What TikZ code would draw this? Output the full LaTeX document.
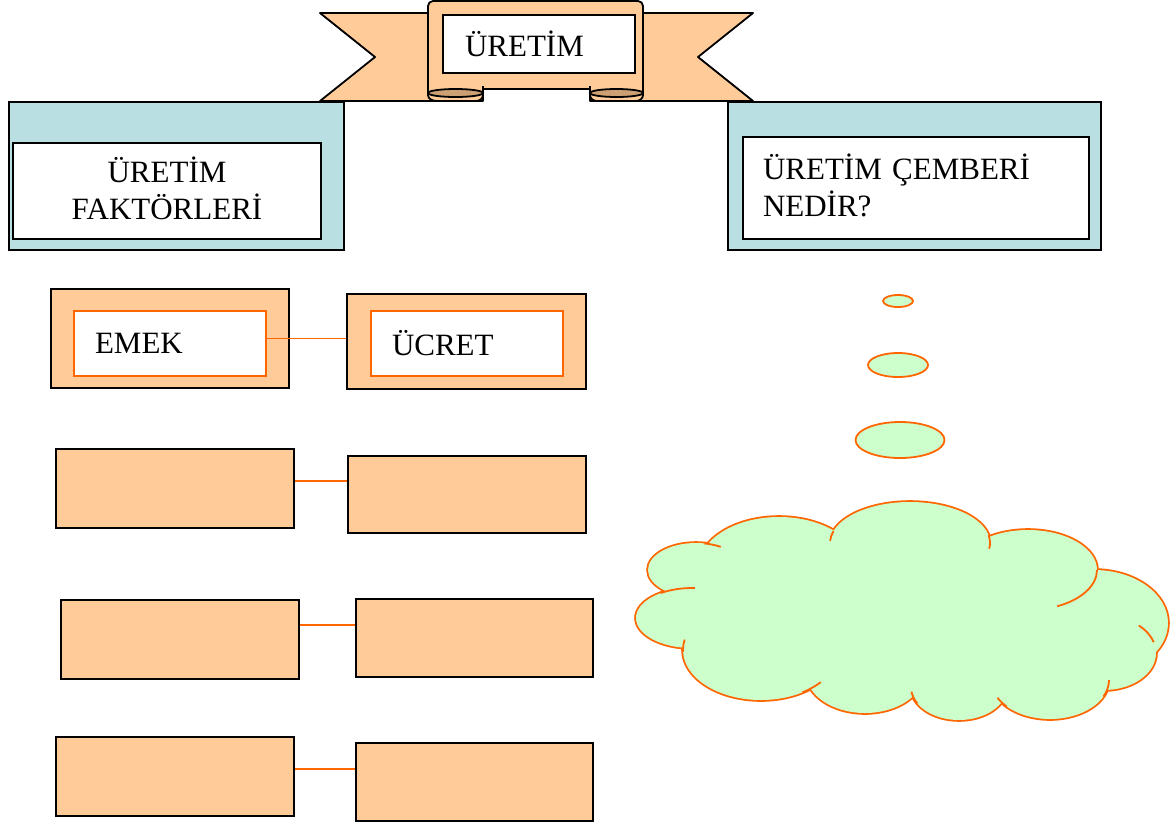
\documentclass[tikz,border=0pt]{standalone}
\usepackage{fontspec}
\setmainfont{Liberation Serif}
\usepackage{tikz}
\usetikzlibrary{positioning, calc, shapes.geometric}
\definecolor{peach}{RGB}{255,204,153}
\definecolor{curltan}{RGB}{205,160,115}
\definecolor{panelblue}{RGB}{185,223,226}
\definecolor{edgeorange}{RGB}{255,102,0}
\definecolor{cloudgreen}{RGB}{204,255,204}
\newcommand{\cloudlobes}{%
    (910,543) ellipse [x radius=80, y radius=41]
    (779,567) ellipse [x radius=80, y radius=50]
    (696,570) ellipse [x radius=48, y radius=27]
    (692,618) ellipse [x radius=56, y radius=30]
    (761,650) ellipse [x radius=78, y radius=50]
    (865,673) ellipse [x radius=59, y radius=40]
    (959,687) ellipse [x radius=48, y radius=33]
    (1050,680) ellipse [x radius=59, y radius=39]
    (1104,653) ellipse [x radius=52, y radius=37]
    (1094,623) ellipse [x radius=74, y radius=53]
    (1028,570) ellipse [x radius=69, y radius=40]}

\begin{document}
\begin{tikzpicture}[
    x=1pt, y=-1pt,
    every node/.style={font=\fontsize{31}{37}\selectfont, inner sep=0pt},
    outerbox/.style={draw=black, line width=1.8pt, fill=peach},
    innerbox/.style={draw=edgeorange, line width=1.8pt, fill=white},
    bluebox/.style={draw=black, line width=1.8pt, fill=panelblue},
    whitebox/.style={draw=black, line width=1.8pt, fill=white},
    banner/.style={draw=black, line width=1.8pt, fill=peach, line join=round},
    link/.style={edgeorange, line width=1.8pt},
    cloudedge/.style={edgeorange, line width=1.8pt},
    bubble/.style={ellipse, draw=edgeorange, line width=1.8pt, fill=cloudgreen},
]
    \useasboundingbox (0,0) rectangle (1170,823);

    % Ribbon tails
    \draw[banner] (320,13) -- (483,13) -- (483,101) -- (320,101) -- (375,57) -- cycle;
    \draw[banner] (753,13) -- (590,13) -- (590,101) -- (753,101) -- (698,57) -- cycle;

    % Ribbon front panel
    \draw[banner] (428,89) {[rounded corners=5pt] -- (428,1) -- (643,1)} -- (643,89) -- cycle;

    % Rolled ends
    \draw[banner] (428,86) -- (428,95) to[out=-90, in=180] (437,101) -- (476,101)
        to[out=0, in=-90] (483,95) -- (483,86);
    \filldraw[fill=curltan, draw=black, line width=1.8pt] (455.5,93) ellipse [x radius=27.5, y radius=4];
    \draw[banner] (590,86) -- (590,95) to[out=-90, in=180] (597,101) -- (636,101)
        to[out=0, in=-90] (643,95) -- (643,86);
    \filldraw[fill=curltan, draw=black, line width=1.8pt] (616.5,93) ellipse [x radius=26.5, y radius=4];

    \node[whitebox, minimum width=192, minimum height=58, text width=148,
        inner xsep=22pt, align=left] (title) at (539,44) {ÜRETİM};

    % Side panels
    \node[bluebox, minimum width=335, minimum height=148] (factorsback) at (176.5,176) {};
    \node[whitebox, minimum width=308, minimum height=96, text width=268,
        inner xsep=20pt, align=center] (factors) at (167,191) {ÜRETİM\\FAKTÖRLERİ\vspace*{5pt}};
    \node[bluebox, minimum width=373, minimum height=148] (circleback) at (914.5,176) {};
    \node[whitebox, minimum width=346, minimum height=102, text width=306,
        inner xsep=20pt, align=left] (question) at (916,188) {ÜRETİM ÇEMBERİ\\NEDİR?\vspace*{6pt}};

    % Factor / income pairs
    \node[outerbox, minimum width=238, minimum height=99] (emekback) at (170,338.5) {};
    \node[innerbox, minimum width=192, minimum height=65, text width=150,
        inner xsep=21pt, align=left] (emek) at (170,343.5) {EMEK};
    \node[outerbox, minimum width=239, minimum height=95] (ucretback) at (466.5,341.5) {};
    \node[innerbox, minimum width=192, minimum height=65, text width=150,
        inner xsep=21pt, align=left] (ucret) at (467,343.5) {ÜCRET};
    \draw[link] ([yshift=5pt]emek.east) coordinate (l1) -- (l1 -| ucretback.west);

    \node[outerbox, minimum width=238, minimum height=79] (factor2) at (175,488.5) {};
    \node[outerbox, minimum width=238, minimum height=77] (income2) at (467,494.5) {};
    \draw[link] ([yshift=7.5pt]factor2.east) coordinate (l2) -- (l2 -| income2.west);

    \node[outerbox, minimum width=238, minimum height=79] (factor3) at (180,639.5) {};
    \node[outerbox, minimum width=237, minimum height=78] (income3) at (474.5,638) {};
    \draw[link] ([yshift=14.5pt]factor3.east) coordinate (l3) -- (l3 -| income3.west);

    \node[outerbox, minimum width=238, minimum height=79] (factor4) at (175,776.5) {};
    \node[outerbox, minimum width=237, minimum height=78] (income4) at (474.5,782) {};
    \draw[link] ([yshift=7.5pt]factor4.east) coordinate (l4) -- (l4 -| income4.west);

    % Thought bubbles
    \node[bubble, minimum width=30, minimum height=12] (bubble1) at (898,301) {};
    \node[bubble, minimum width=60, minimum height=24] (bubble2) at (898,365) {};
    \node[bubble, minimum width=89, minimum height=36] (bubble3) at (900,440) {};

    % Cloud: thick outline first, fill on top leaves the outer edge
    \draw[edgeorange, line width=3.6pt] \cloudlobes;
    \fill[cloudgreen] \cloudlobes;
    \fill[cloudgreen] (900,610) ellipse [x radius=165, y radius=72];
    \draw[cloudedge] (696,570) ++(280:48 and 27) arc [start angle=280, end angle=301, x radius=48, y radius=27];
    \draw[cloudedge] (692,618) ++(236:56 and 30) arc [start angle=236, end angle=273, x radius=56, y radius=30];
    \draw[cloudedge] (761,650) ++(178:78 and 50) arc [start angle=178, end angle=192, x radius=78, y radius=50];
    \draw[cloudedge] (761,650) ++(40:78 and 50) arc [start angle=40, end angle=58, x radius=78, y radius=50];
    \draw[cloudedge] (910,543) ++(183:80 and 41) arc [start angle=183, end angle=197, x radius=80, y radius=41];
    \draw[cloudedge] (910,543) ++(-11:80 and 41) arc [start angle=-11, end angle=8, x radius=80, y radius=41];
    \draw[cloudedge] (959,687) ++(150:48 and 33) arc [start angle=150, end angle=172, x radius=48, y radius=33];
    \draw[cloudedge] (1050,680) ++(137:59 and 39) arc [start angle=137, end angle=153, x radius=59, y radius=39];
    \draw[cloudedge] (1050,680) ++(0:59 and 39) arc [start angle=0, end angle=25, x radius=59, y radius=39];
    \draw[cloudedge] (1104,653) ++(312:52 and 37) arc [start angle=312, end angle=343, x radius=52, y radius=37];
    \draw[cloudedge] (1028,570) ++(0:69 and 40) arc [start angle=0, end angle=65, x radius=69, y radius=40];
\end{tikzpicture}
\end{document}
